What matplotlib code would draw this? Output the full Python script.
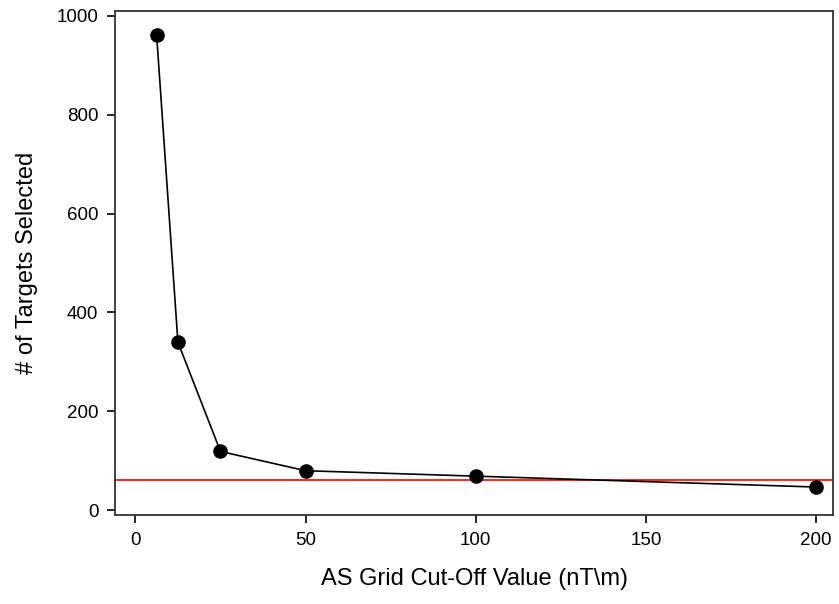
import matplotlib
matplotlib.use('Agg')
import matplotlib.pyplot as plt

plt.rcParams['font.family'] = ['Liberation Sans', 'DejaVu Sans']

# AS grid cut-off vs number of targets
cutoff = [6.25, 12.5, 25, 50, 100, 200]
n_targets = [961, 340, 119, 80, 69, 47]
threshold = 61

x_ticks = [0, 50, 100, 150, 200]
y_ticks = [0, 200, 400, 600, 800, 1000]

fig = plt.figure(figsize=(8.39, 6.04), dpi=100)
ax = fig.add_axes([0.137, 0.147, 0.856, 0.835])

ax.plot(cutoff, n_targets, color='black', lw=1.2, marker='o', ms=9.5, zorder=3)
ax.axhline(threshold, color='red', lw=1.2, zorder=2)

ax.set_xlim(-6, 205)
ax.set_ylim(-10, 1010)
ax.set_xticks(x_ticks)
ax.set_yticks(y_ticks)
ax.tick_params(direction='out', length=6, width=1.2, labelsize=13.5, pad=6)
for s in ax.spines.values():
    s.set_linewidth(1.3)
    s.set_color('#333333')

ax.set_xlabel('AS Grid Cut-Off Value (nT\\m)', fontsize=17, labelpad=14)
ax.set_ylabel('# of Targets Selected', fontsize=17, labelpad=13)

fig.savefig('out.png', dpi=100)
